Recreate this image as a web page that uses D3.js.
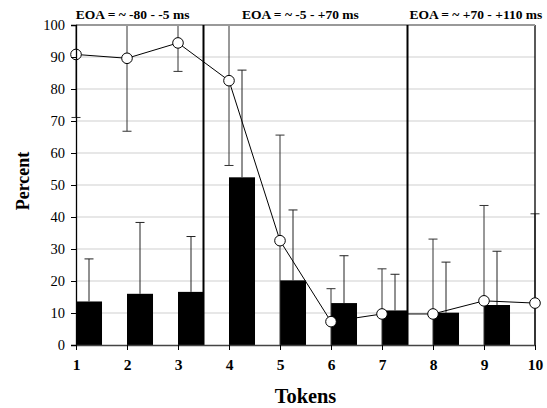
<!DOCTYPE html>
<html>
<head>
<meta charset="utf-8">
<script src="https://cdn.jsdelivr.net/npm/d3@7"></script>
<style>
  body { margin: 0; background: #fff; }
</style>
</head>
<body>
<div id="chart-container"></div>
<script>
// data
const tokens = [1, 2, 3, 4, 5, 6, 7, 8, 9, 10];
const barValues = [13.6, 16.0, 16.6, 52.4, 20.2, 13.1, 10.8, 10.1, 12.5, null];
const barErr = [13.3, 22.3, 17.3, 33.5, 22.0, 14.8, 11.3, 15.8, 16.8, null];
const lineValues = [90.8, 89.6, 94.4, 82.6, 32.6, 7.3, 9.7, 9.7, 13.8, 13.1];
const lineErr = [19.7, 22.8, 8.9, 26.5, 33.0, 10.3, 14.1, 23.4, 29.8, 27.9];
const yTicks = [0, 10, 20, 30, 40, 50, 60, 70, 80, 90, 100];
const separators = [3.5, 7.5];
const regionLabels = ["EOA = ~ -80 - -5 ms", "EOA = ~ -5 - +70 ms", "EOA = ~ +70 - +110 ms"];
const regionCenters = [2.11, 5.4, 8.84];

/** CONSTANTS */
const width = 547;
const height = 408;
const margins = {top: 25, bottom: 63, left: 76, right: 12};
const serif = "'Liberation Serif'";

/** SCALES */
const xScale = d3.scaleLinear()
  .domain([1, 10])
  .range([margins.left, width - margins.right]);

const yScale = d3.scaleLinear()
  .domain([0, 100])
  .range([height - margins.bottom, margins.top]);

const barWidth = (xScale(2) - xScale(1)) * 0.51;
const capW = 4.5;

/** DRAWING ELEMENTS */
const svg = d3.select('#chart-container')
  .append("svg")
  .attr("width", width)
  .attr("height", height);

svg.append("clipPath")
  .attr("id", "plot-clip")
  .append("rect")
  .attr("x", margins.left - 10)
  .attr("y", margins.top)
  .attr("width", width - margins.left - margins.right + 20)
  .attr("height", height - margins.top - margins.bottom);

// gridlines
svg.selectAll("line.grid")
  .data(yTicks.filter(d => d > 0 && d < 100))
  .join("line")
  .attr("class", "grid")
  .attr("x1", margins.left)
  .attr("x2", width - margins.right)
  .attr("y1", d => yScale(d))
  .attr("y2", d => yScale(d))
  .attr("stroke", "#cfcfcf")
  .attr("stroke-width", 1);

const barData = tokens.map((t, i) => ({t, v: barValues[i], e: barErr[i]})).filter(d => d.v != null);
const lineData = tokens.map((t, i) => ({t, v: lineValues[i], e: lineErr[i]}));

// bars
svg.selectAll("rect.bar")
  .data(barData)
  .join("rect")
  .attr("class", "bar")
  .attr("x", d => xScale(d.t))
  .attr("y", d => yScale(d.v))
  .attr("width", barWidth)
  .attr("height", d => yScale(0) - yScale(d.v))
  .attr("fill", "#000");

const plot = svg.append("g").attr("clip-path", "url(#plot-clip)");

// bar error bars (upper half only shows)
plot.selectAll("path.barerr")
  .data(barData)
  .join("path")
  .attr("class", "barerr")
  .attr("d", d => {
    const cx = xScale(d.t) + barWidth / 2;
    const y0 = yScale(d.v), y1 = yScale(d.v + d.e);
    return `M${cx},${y0}V${y1}M${cx - capW},${y1}H${cx + capW}`;
  })
  .attr("fill", "none")
  .attr("stroke", "#222")
  .attr("stroke-width", 1);

// line error bars
plot.selectAll("path.lineerr")
  .data(lineData)
  .join("path")
  .attr("class", "lineerr")
  .attr("d", d => {
    const cx = xScale(d.t);
    const lo = Math.max(d.v - d.e, 0), hi = d.v + d.e;
    let p = `M${cx},${yScale(lo)}V${yScale(hi)}`;
    if (hi <= 100) p += `M${cx - capW},${yScale(hi)}H${cx + capW}`;
    if (d.v - d.e > 0) p += `M${cx - capW},${yScale(lo)}H${cx + capW}`;
    return p;
  })
  .attr("fill", "none")
  .attr("stroke", "#333")
  .attr("stroke-width", 1);

// right border and top border
svg.append("line")
  .attr("x1", width - margins.right).attr("x2", width - margins.right)
  .attr("y1", margins.top).attr("y2", yScale(0))
  .attr("stroke", "#000").attr("stroke-width", 1.3);
svg.append("line")
  .attr("x1", margins.left).attr("x2", width - margins.right)
  .attr("y1", margins.top).attr("y2", margins.top)
  .attr("stroke", "#999").attr("stroke-width", 2);

// separators between regions
svg.selectAll("line.sep")
  .data(separators)
  .join("line")
  .attr("class", "sep")
  .attr("x1", d => xScale(d)).attr("x2", d => xScale(d))
  .attr("y1", margins.top).attr("y2", yScale(0))
  .attr("stroke", "#000")
  .attr("stroke-width", 2);

// line
const line = d3.line()
  .x(d => xScale(d.t))
  .y(d => yScale(d.v));

svg.append("path")
  .datum(lineData)
  .attr("d", line)
  .attr("fill", "none")
  .attr("stroke", "#000")
  .attr("stroke-width", 1);

svg.selectAll("circle.pt")
  .data(lineData)
  .join("circle")
  .attr("class", "pt")
  .attr("cx", d => xScale(d.t))
  .attr("cy", d => yScale(d.v))
  .attr("r", 5.3)
  .attr("fill", "#fff")
  .attr("stroke", "#000")
  .attr("stroke-width", 1);

// axes
const yAxis = d3.axisLeft(yScale)
  .tickValues(yTicks)
  .tickSize(5)
  .tickPadding(6);

svg.append("g")
  .attr("transform", `translate(${margins.left},0)`)
  .call(yAxis)
  .attr("font-family", null)
  .call(g => g.select(".domain").attr("stroke", "#000").attr("stroke-width", 1.3))
  .call(g => g.selectAll(".tick line").attr("stroke", "#000"))
  .call(g => g.selectAll("text")
    .attr("font-size", 14.5)
    .attr("fill", "#000")
    .style("font-family", serif));

const xAxis = d3.axisBottom(xScale)
  .tickValues(tokens)
  .tickFormat(d3.format("d"))
  .tickSize(5)
  .tickPadding(9)
  .tickSizeOuter(0);

svg.append("g")
  .attr("transform", `translate(0,${yScale(0)})`)
  .call(xAxis)
  .attr("font-family", null)
  .call(g => g.select(".domain").attr("stroke", "#444").attr("stroke-width", 1.5))
  .call(g => g.selectAll(".tick line").attr("stroke", "#000"))
  .call(g => g.selectAll("text")
    .attr("font-size", 15.5)
    .attr("font-weight", "bold")
    .attr("fill", "#000")
    .style("font-family", serif));

// region labels
svg.selectAll("text.region")
  .data(regionLabels)
  .join("text")
  .attr("class", "region")
  .attr("x", (d, i) => xScale(regionCenters[i]))
  .attr("y", 19)
  .attr("text-anchor", "middle")
  .attr("font-size", 13.5)
  .attr("font-weight", "bold")
  .style("font-family", serif)
  .text(d => d);

// axis titles
svg.append("text")
  .attr("x", (margins.left + width - margins.right) / 2)
  .attr("y", 402.5)
  .attr("text-anchor", "middle")
  .attr("font-size", 20.4)
  .attr("font-weight", "bold")
  .style("font-family", serif)
  .text("Tokens");

svg.append("text")
  .attr("transform", `translate(29,181) rotate(-90)`)
  .attr("text-anchor", "middle")
  .attr("font-size", 18)
  .attr("font-weight", "bold")
  .style("font-family", serif)
  .text("Percent");
</script>
</body>
</html>
